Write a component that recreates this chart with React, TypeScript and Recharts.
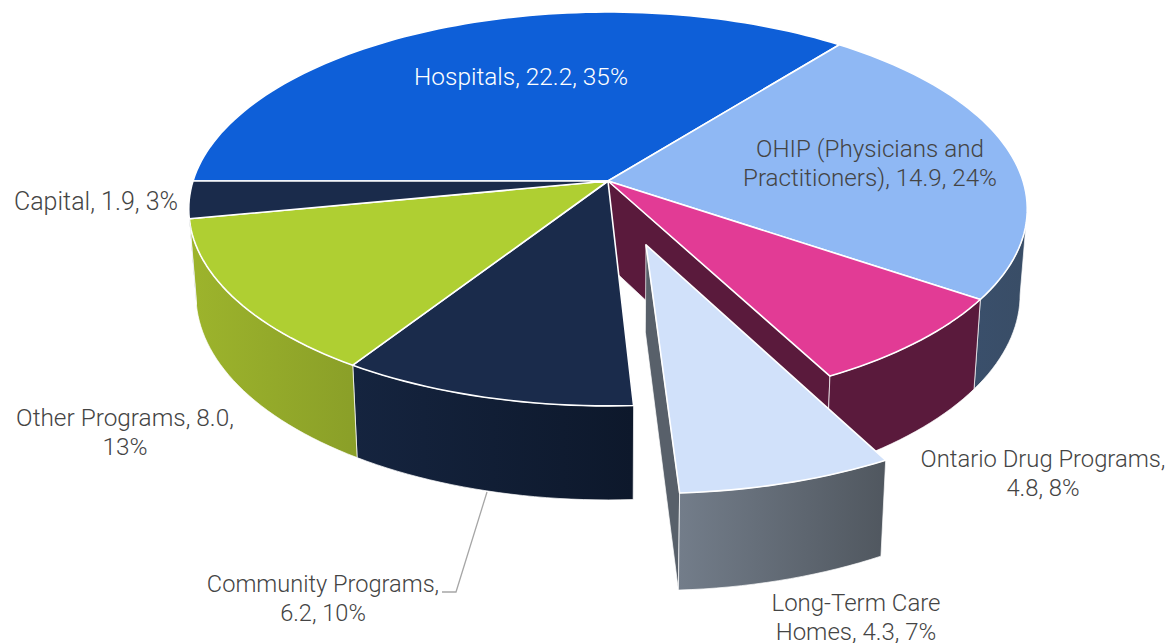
import React from 'react';
import { PieChart, Pie } from 'recharts';

const categories = ['Hospitals', 'OHIP (Physicians and Practitioners)', 'Ontario Drug Programs', 'Long-Term Care Homes', 'Community Programs', 'Other Programs', 'Capital'];
const amounts = [22.2, 14.9, 4.8, 4.3, 6.2, 8.0, 1.9];
const percents = [35, 24, 8, 7, 10, 13, 3];
const explosions = [0, 0, 0, 0.328, 0, 0, 0];
const topColors = ['#0E5FD8', '#8FB8F4', '#E23B95', '#D1E1FA', '#1A2B4B', '#AFCF32', '#1A2B4B'];
const wallFrom = ['#0A47A0', '#3A4F6B', '#5A1A3C', '#737D8A', '#15243F', '#9DB42C', '#15243F'];
const wallTo = ['#0A47A0', '#394D66', '#5A1A3C', '#50575F', '#0D182B', '#8A9F28', '#0D182B'];
const labelLines = [
  ['Hospitals, 22.2, 35%'],
  ['OHIP (Physicians and', 'Practitioners), 14.9, 24%'],
  ['Ontario Drug Programs,', '4.8, 8%'],
  ['Long-Term Care', 'Homes, 4.3, 7%'],
  ['Community Programs,', '6.2, 10%'],
  ['Other Programs, 8.0,', '13%'],
  ['Capital, 1.9, 3%'],
];
const labelAnchors = [[521, 76], [870, 149], [1043, 459], [856, 603], [323, 584], [125, 417], [96, 201]];
const labelSizes = [24.4, 24.2, 23.8, 24, 23.6, 24.4, 25];
const labelColors = ['#FFFFFF', '#444444', '#444444', '#444444', '#444444', '#444444', '#444444'];

const data = categories.map((name, i) => ({
  name, value: amounts[i], percent: percents[i], explode: explosions[i], index: i,
}));

const PERSPECTIVE = 0.142;
const SQUASH = 0.465;
const DEPTH = 94;
const DEPTH_NEAR_GAIN = 10;
const BOTTOM_SCALE = 0.983;
const RAD = Math.PI / 180;

type Pt = [number, number];

function makeProjector(cx: number, cy: number, r: number, explode: number, mid: number) {
  const ou = explode * Math.sin(mid * RAD);
  const ov = -explode * Math.cos(mid * RAD);
  return (u: number, v: number, bottom: boolean): Pt => {
    const uu = u + ou;
    const vv = v + ov;
    const den = 1 - PERSPECTIVE * vv;
    let x = (r * uu) / den;
    let y = (r * SQUASH * vv) / den;
    if (bottom) {
      x *= BOTTOM_SCALE;
      y += DEPTH + DEPTH_NEAR_GAIN * (vv - 1);
    }
    return [cx + x, cy + y];
  };
}

const toPath = (pts: Pt[]) => 'M' + pts.map((p) => `${p[0].toFixed(2)},${p[1].toFixed(2)}`).join('L') + 'Z';

function arcAngles(a: number, b: number): number[] {
  const n = Math.max(2, Math.ceil((b - a) / 1.5));
  const out: number[] = [];
  for (let i = 0; i <= n; i++) out.push(a + ((b - a) * i) / n);
  return out;
}

function Slice3D(props: any) {
  const { cx, cy, outerRadius, startAngle, endAngle, payload } = props;
  const p = payload && payload.index !== undefined ? payload : props;
  const i: number = p.index;
  // library angles (counter-clockwise from +x) to clockwise-from-north
  let t0 = 90 - startAngle;
  let t1 = 90 - endAngle;
  if (t0 < 0) { t0 += 360; t1 += 360; }
  const mid = (t0 + t1) / 2;
  const proj = makeProjector(cx, cy, outerRadius, p.explode, mid);
  const at = (t: number, bottom: boolean) => proj(Math.sin(t * RAD), -Math.cos(t * RAD), bottom);

  const topPts: Pt[] = [proj(0, 0, false), ...arcAngles(t0, t1).map((t) => at(t, false))];

  // the outer wall only shows where the rim faces the viewer
  const visA = 98.2;
  const visB = 261.8;
  const wallSets: Array<[number, number]> = [];
  [[t0, t1], [t0 - 360, t1 - 360], [t0 + 360, t1 + 360]].forEach(([a, b]) => {
    const s = Math.max(a, visA);
    const e = Math.min(b, visB);
    if (e > s) wallSets.push([s, e]);
  });
  const gid = `wall-${i}`;
  const normEnd = ((t1 % 360) + 360) % 360;
  const showFace = normEnd > 90 && normEnd < 180;
  const facePts: Pt[] = [proj(0, 0, false), at(t1, false), at(t1, true), proj(0, 0, true)];
  const faceFill = p.explode > 0 ? '#58606A' : wallTo[i];

  return (
    <g>
      <defs>
        <linearGradient id={gid} x1="0" y1="0" x2="1" y2="0">
          <stop offset="0%" stopColor={wallFrom[i]} />
          <stop offset="100%" stopColor={wallTo[i]} />
        </linearGradient>
      </defs>
      {showFace && <path d={toPath(facePts)} fill={faceFill} stroke="#FFFFFF" strokeWidth={0.7} strokeLinejoin="round" />}
      {wallSets.map(([s, e], k) => {
        const ang = arcAngles(s, e);
        const pts: Pt[] = [...ang.map((t) => at(t, false)), ...ang.slice().reverse().map((t) => at(t, true))];
        return <path key={k} d={toPath(pts)} fill={`url(#${gid})`} stroke="#FFFFFF" strokeWidth={0.7} strokeLinejoin="round" />;
      })}
      <path d={toPath(topPts)} fill={topColors[i]} stroke="#FFFFFF" strokeWidth={1.6} strokeLinejoin="round" />
    </g>
  );
}

function SliceLabel(props: any) {
  const i: number = props.index;
  const [x, y] = labelAnchors[i];
  return (
    <g>
      {i === 4 && <polyline points="487,492 456,592 442,592" fill="none" stroke="#A6A6A6" strokeWidth={1.3} />}
      <text x={x} y={y} textAnchor="middle" fill={labelColors[i]} fontFamily="Roboto, sans-serif" fontWeight={300} fontSize={labelSizes[i]} dominantBaseline="central">
        {labelLines[i].map((line, k) => (
          <tspan key={k} x={x} dy={k === 0 ? 0 : 29}>{line}</tspan>
        ))}
      </text>
    </g>
  );
}

export default function App() {
  return (
    <div style={{ position: 'absolute', left: 0, top: 0, width: 1169, height: 643, background: '#FFFFFF', overflow: 'hidden' }}>
      <PieChart width={1169} height={643} margin={{ top: 0, right: 0, bottom: 0, left: 0 }}>
        <Pie
          data={data}
          dataKey="value"
          nameKey="name"
          cx={608}
          cy={181}
          innerRadius={0}
          outerRadius={415}
          startAngle={180}
          endAngle={-180}
          paddingAngle={0}
          isAnimationActive={false}
          stroke="none"
          shape={Slice3D}
          label={SliceLabel}
          labelLine={false}
        />
      </PieChart>
    </div>
  );
}
